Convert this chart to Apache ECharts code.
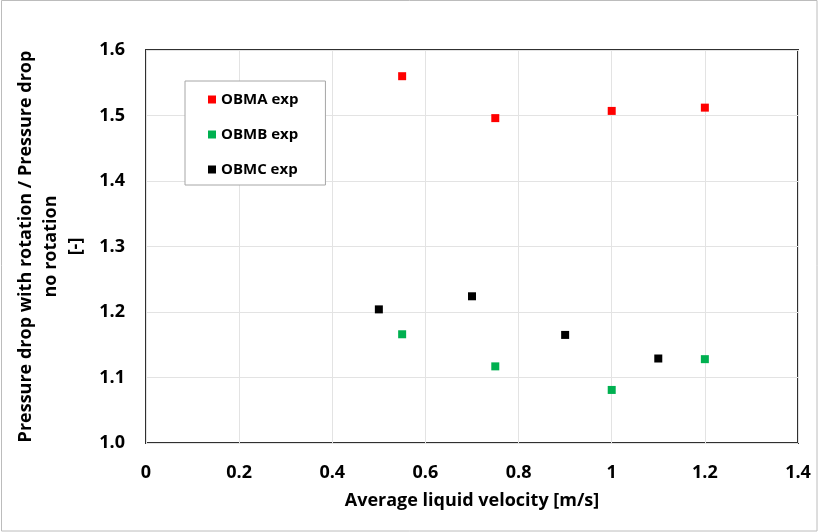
<!DOCTYPE html>
<html><head><meta charset="utf-8">
<script src="https://cdn.jsdelivr.net/npm/echarts@6/dist/echarts.min.js"></script>
<style>html,body{margin:0;padding:0;background:#fff}#c{width:819px;height:532px}</style>
</head><body><div id="c"></div>
<script>
const seriesNames = ['OBMA exp', 'OBMB exp', 'OBMC exp'];
const colors = ['#ff0000', '#00b050', '#000000'];
const obmaX = [0.55, 0.75, 1.0, 1.2];
const obmaY = [1.560, 1.496, 1.507, 1.512];
const obmbX = [0.55, 0.75, 1.0, 1.2];
const obmbY = [1.166, 1.117, 1.081, 1.128];
const obmcX = [0.5, 0.7, 0.9, 1.1];
const obmcY = [1.204, 1.224, 1.165, 1.129];
const xTitle = 'Average liquid velocity [m/s]';
const yTitle = 'Pressure drop with rotation / Pressure drop\nno rotation\n[-]';

const FONT = '"Open Sans", sans-serif';
const pairs = (xs, ys) => xs.map((x, i) => [x, ys[i]]);
const allData = [pairs(obmaX, obmaY), pairs(obmbX, obmbY), pairs(obmcX, obmcY)];

const chart = echarts.init(document.getElementById('c'));
chart.setOption({
  animation: false,
  backgroundColor: '#fff',
  graphic: [{ type: 'rect', shape: { x: 1.5, y: 0.5, width: 815.5, height: 530.5 }, style: { fill: 'none', stroke: '#bcbcbc', lineWidth: 1 }, silent: true }],
  grid: { left: 146, top: 50, right: 21, bottom: 89, show: true, borderColor: '#303030', borderWidth: 2, backgroundColor: 'transparent' },
  legend: {
    orient: 'vertical', left: 185, top: 81,
    backgroundColor: '#fff', borderColor: '#a6a6a6', borderWidth: 1,
    padding: [10, 27, 7, 23], itemGap: 18, itemWidth: 8, itemHeight: 8,
    icon: 'rect',
    textStyle: { fontFamily: FONT, fontSize: 15, fontWeight: 'bold', color: '#000', lineHeight: 17 },
    data: seriesNames
  },
  xAxis: {
    type: 'value', min: 0, max: 1.4, interval: 0.2,
    axisLine: { show: false }, axisTick: { show: false },
    splitLine: { show: true, lineStyle: { color: '#e3e3e3', width: 1 } },
    axisLabel: { margin: 21, fontFamily: FONT, fontSize: 18, fontWeight: 'bold', color: '#000',
      formatter: v => (Math.round(v * 10) / 10).toString() },
    name: xTitle, nameLocation: 'middle', nameGap: 49,
    nameTextStyle: { fontFamily: FONT, fontSize: 18, fontWeight: 'bold', color: '#000' }
  },
  yAxis: {
    type: 'value', min: 1.0, max: 1.6, interval: 0.1,
    axisLine: { show: false }, axisTick: { show: false },
    splitLine: { show: true, lineStyle: { color: '#e3e3e3', width: 1 } },
    axisLabel: { margin: 21, fontFamily: FONT, fontSize: 18, fontWeight: 'bold', color: '#000',
      formatter: v => v.toFixed(1) },
    name: yTitle, nameLocation: 'middle', nameGap: 52, nameRotate: 90,
    nameTextStyle: { fontFamily: FONT, fontSize: 18, fontWeight: 'bold', color: '#000', lineHeight: 25, align: 'center' }
  },
  series: seriesNames.map((n, i) => ({
    name: n, type: 'scatter', symbol: 'rect', symbolSize: 8,
    itemStyle: { color: colors[i], opacity: 1 }, data: allData[i]
  }))
});
</script></body></html>
